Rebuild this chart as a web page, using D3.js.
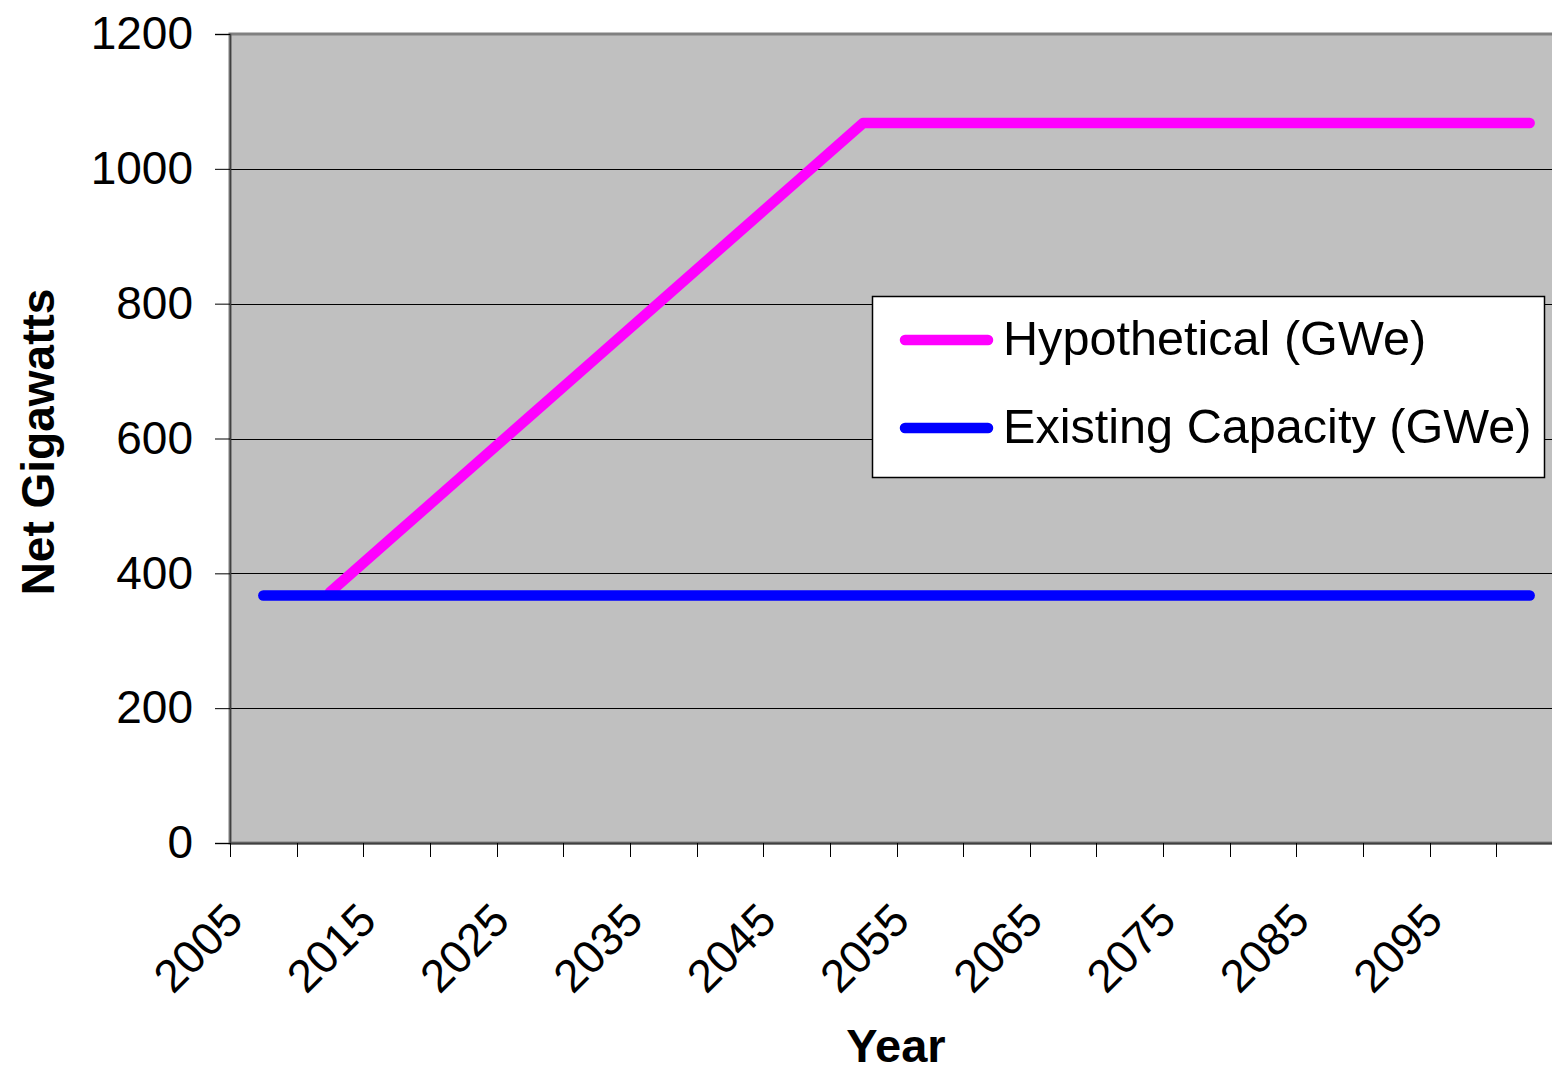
<!DOCTYPE html>
<html>
<head>
<meta charset="utf-8">
<script src="https://cdnjs.cloudflare.com/ajax/libs/d3/7.8.5/d3.min.js"></script>
<style>
  body { margin: 0; background: #fff; }
  svg { display: block; font-family: "Liberation Sans", Arial, sans-serif; }
</style>
</head>
<body>
<div id="chart"></div>
<script>
// Categories (every 5 years) and series
var years = [2005, 2010, 2015, 2020, 2025, 2030, 2035, 2040, 2045, 2050,
             2055, 2060, 2065, 2070, 2075, 2080, 2085, 2090, 2095, 2100];
var hypothetical = [null, 372, 459, 546, 633, 720, 807, 894, 981, 1068,
                    1068, 1068, 1068, 1068, 1068, 1068, 1068, 1068, 1068, 1068];
var existing = [367, 367, 367, 367, 367, 367, 367, 367, 367, 367,
                367, 367, 367, 367, 367, 367, 367, 367, 367, 367];
var yTicks = [0, 200, 400, 600, 800, 1000, 1200];
var xLabels = [2005, 2015, 2025, 2035, 2045, 2055, 2065, 2075, 2085, 2095];
var seriesNames = ["Hypothetical (GWe)", "Existing Capacity (GWe)"];
var seriesColors = ["#ff00ff", "#0000ff"];

var width = 1552, height = 1073;
var margin = {top: 34, left: 230, bottom: 843};
var bandW = 66.65;

var svg = d3.select("#chart").append("svg")
    .attr("width", width)
    .attr("height", height);

// scales
var x = d3.scaleBand()
    .domain(years)
    .range([margin.left, margin.left + bandW * years.length])
    .padding(0);
var y = d3.scaleLinear()
    .domain([0, 1200])
    .range([margin.bottom, margin.top]);

function cx(d) { return x(d) + x.bandwidth() / 2; }

// plot area
svg.append("rect")
    .attr("x", margin.left)
    .attr("y", margin.top)
    .attr("width", x.range()[1] - margin.left)
    .attr("height", margin.bottom - margin.top)
    .style("fill", "#c0c0c0")
    .style("stroke", "#808080")
    .style("stroke-width", 3);

// gridlines
svg.selectAll(".hgrid")
  .data(yTicks.slice(1, -1))
  .enter()
    .append("line")
    .attr("class", "hgrid")
    .attr("x1", margin.left)
    .attr("x2", x.range()[1])
    .attr("y1", function(d) { return Math.round(y(d)) + 0.5; })
    .attr("y2", function(d) { return Math.round(y(d)) + 0.5; })
    .style("stroke", "#000")
    .style("stroke-width", 1);

// y axis
var yAxis = svg.append("g")
    .attr("transform", "translate(" + margin.left + ",0)")
    .call(d3.axisLeft(y).tickValues(yTicks).tickFormat(d3.format("d")).tickSize(15).tickPadding(22));
yAxis.select(".domain").style("stroke", "#404040").style("stroke-width", 1.5);
yAxis.selectAll(".tick line").style("stroke", "#000");
yAxis.selectAll(".tick text")
    .style("font-size", "46px")
    .style("font-family", "Liberation Sans, Arial, sans-serif")
    .style("fill", "#000");

// x axis: ticks on category boundaries
var xAxisG = svg.append("g");
xAxisG.append("line")
    .attr("x1", margin.left)
    .attr("x2", x.range()[1])
    .attr("y1", margin.bottom + 0.5)
    .attr("y2", margin.bottom + 0.5)
    .style("stroke", "#404040")
    .style("stroke-width", 2);
xAxisG.selectAll(".xtick")
  .data(years.concat([null]))
  .enter()
    .append("line")
    .attr("class", "xtick")
    .attr("x1", function(d, i) { return Math.round(margin.left + i * x.bandwidth()) + 0.5; })
    .attr("x2", function(d, i) { return Math.round(margin.left + i * x.bandwidth()) + 0.5; })
    .attr("y1", margin.bottom)
    .attr("y2", margin.bottom + 14)
    .style("stroke", "#000")
    .style("stroke-width", 1);
xAxisG.selectAll(".xlab")
  .data(xLabels)
  .enter()
    .append("text")
    .attr("class", "xlab")
    .attr("transform", function(d) {
      return "translate(" + (cx(d) - 18) + ",923) rotate(-45)";
    })
    .style("text-anchor", "end")
    .style("font-size", "46px")
    .text(function(d) { return d; });

// lines
var line = d3.line()
    .defined(function(d) { return d.v != null; })
    .x(function(d) { return cx(d.year); })
    .y(function(d) { return y(d.v); });

[hypothetical, existing].forEach(function(vals, i) {
  svg.append("path")
    .datum(years.map(function(yr, j) { return {year: yr, v: vals[j]}; }))
    .attr("d", line)
    .style("fill", "none")
    .style("stroke", seriesColors[i])
    .style("stroke-width", 10.5)
    .style("stroke-linecap", "round")
    .style("stroke-linejoin", "round");
});

// axis titles
svg.append("text")
    .attr("transform", "translate(54,442) rotate(-90)")
    .style("text-anchor", "middle")
    .style("font-size", "46px")
    .style("font-weight", "bold")
    .text("Net Gigawatts");
svg.append("text")
    .attr("x", 896)
    .attr("y", 1062)
    .style("text-anchor", "middle")
    .style("font-size", "47px")
    .style("font-weight", "bold")
    .text("Year");

// legend
var legend = svg.append("g");
legend.append("rect")
    .attr("x", 872.5)
    .attr("y", 296.5)
    .attr("width", 672)
    .attr("height", 181)
    .style("fill", "#fff")
    .style("stroke", "#000")
    .style("stroke-width", 1.5);
var entries = legend.selectAll(".entry")
  .data(seriesNames)
  .enter()
    .append("g")
    .attr("class", "entry")
    .attr("transform", function(d, i) { return "translate(0," + (340 + i * 88) + ")"; });
entries.append("line")
    .attr("x1", 905)
    .attr("x2", 988)
    .style("stroke", function(d, i) { return seriesColors[i]; })
    .style("stroke-width", 10.5)
    .style("stroke-linecap", "round");
entries.append("text")
    .attr("x", 1003)
    .attr("y", 15)
    .style("font-size", "48.6px")
    .text(function(d) { return d; });
</script>
</body>
</html>
